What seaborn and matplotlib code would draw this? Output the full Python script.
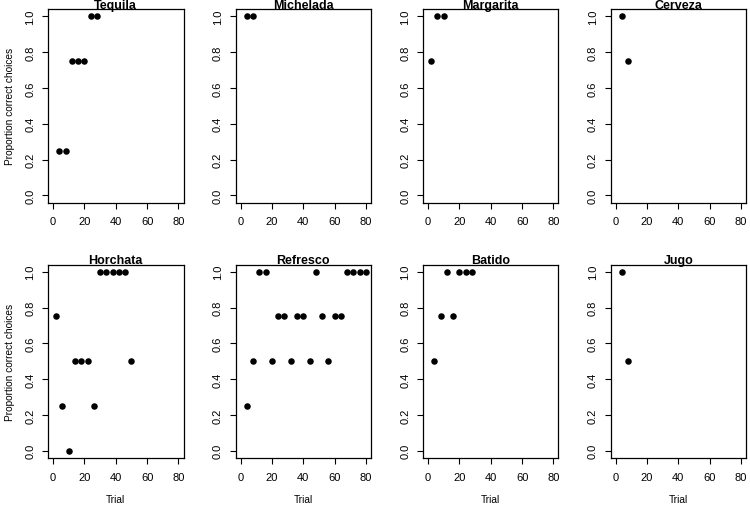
import matplotlib
matplotlib.use("Agg")
import matplotlib.pyplot as plt
import seaborn as sns
import pandas as pd

sns.set_theme(style="ticks")
plt.rcParams['font.family'] = ['Liberation Sans', 'DejaVu Sans']
plt.rcParams['text.color'] = 'black'
plt.rcParams['axes.labelcolor'] = 'black'

drinks = ["Tequila", "Michelada", "Margarita", "Cerveza",
          "Horchata", "Refresco", "Batido", "Jugo"]

tequila_trial = [4, 8, 12, 16, 20, 24, 28]
tequila_prop = [0.25, 0.25, 0.75, 0.75, 0.75, 1.0, 1.0]
michelada_trial = [4, 8]
michelada_prop = [1.0, 1.0]
margarita_trial = [2, 6, 10]
margarita_prop = [0.75, 1.0, 1.0]
cerveza_trial = [4, 8]
cerveza_prop = [1.0, 0.75]
horchata_trial = [2, 6, 10, 14, 18, 22, 26, 30, 34, 38, 42, 46, 50]
horchata_prop = [0.75, 0.25, 0.0, 0.5, 0.5, 0.5, 0.25, 1.0, 1.0, 1.0, 1.0, 1.0, 0.5]
refresco_trial = [4, 8, 12, 16, 20, 24, 28, 32, 36, 40, 44, 48, 52, 56, 60, 64, 68, 72, 76, 80]
refresco_prop = [0.25, 0.5, 1.0, 1.0, 0.5, 0.75, 0.75, 0.5, 0.75, 0.75, 0.5, 1.0,
                 0.75, 0.5, 0.75, 0.75, 1.0, 1.0, 1.0, 1.0]
batido_trial = [4, 8, 12, 16, 20, 24, 28]
batido_prop = [0.5, 0.75, 1.0, 0.75, 1.0, 1.0, 1.0]
jugo_trial = [4, 8]
jugo_prop = [1.0, 0.5]

x_ticks = [0, 20, 40, 60, 80]
y_ticks = [0.0, 0.2, 0.4, 0.6, 0.8, 1.0]
y_tick_labels = ["0.0", "0.2", "0.4", "0.6", "0.8", "1.0"]

series = {
    "Tequila": (tequila_trial, tequila_prop),
    "Michelada": (michelada_trial, michelada_prop),
    "Margarita": (margarita_trial, margarita_prop),
    "Cerveza": (cerveza_trial, cerveza_prop),
    "Horchata": (horchata_trial, horchata_prop),
    "Refresco": (refresco_trial, refresco_prop),
    "Batido": (batido_trial, batido_prop),
    "Jugo": (jugo_trial, jugo_prop),
}
rows = []
for d in drinks:
    t, p = series[d]
    for a, b in zip(t, p):
        rows.append({"drink": d, "trial": a, "prop": b})
df = pd.DataFrame(rows)

W, H = 750, 506
fig = plt.figure(figsize=(W / 100, H / 100), dpi=100)
fig.patch.set_facecolor("white")

cell_w = W / 4
box_left_off = 48
box_w = 135.5
row_tops = [10, 265.5]
box_h = 193.5

for i, d in enumerate(drinks):
    r, c = divmod(i, 4)
    left = c * cell_w + box_left_off
    top = row_tops[r]
    ax = fig.add_axes([left / W, 1 - (top + box_h) / H, box_w / W, box_h / H])
    sub = df[df["drink"] == d]
    sns.scatterplot(data=sub, x="trial", y="prop", ax=ax, color="black",
                    s=22, linewidth=0, legend=False)
    ax.set_xlim(-3.2, 83.2)
    ax.set_ylim(-0.04, 1.04)
    ax.set_xticks(x_ticks)
    ax.set_yticks(y_ticks)
    ax.set_yticklabels(y_tick_labels, rotation=90, va="center")
    ax.tick_params(axis="both", direction="out", length=4, width=0.8,
                   labelsize=8, color="black", labelcolor="black")
    ax.tick_params(axis="x", pad=6)
    ax.tick_params(axis="y", pad=5)
    for sp in ax.spines.values():
        sp.set_visible(True)
        sp.set_linewidth(0.9)
        sp.set_color("black")
    ax.set_facecolor("white")
    ax.set_title(d, fontsize=9, fontweight="bold", color="black", y=1.0, pad=1.0)
    if r == 1:
        ax.set_xlabel("Trial", fontsize=7.3)
        ax.xaxis.set_label_coords(0.5, (459 - 500) / box_h)
        ax.xaxis.label.set_va("center")
    else:
        ax.set_xlabel("")
    if c == 0:
        ax.set_ylabel("Proportion correct choices", fontsize=7.3)
        ax.yaxis.set_label_coords((10 - box_left_off) / box_w, 0.5)
        ax.yaxis.label.set_va("center")
    else:
        ax.set_ylabel("")

fig.savefig("out.png", dpi=100, facecolor="white")
